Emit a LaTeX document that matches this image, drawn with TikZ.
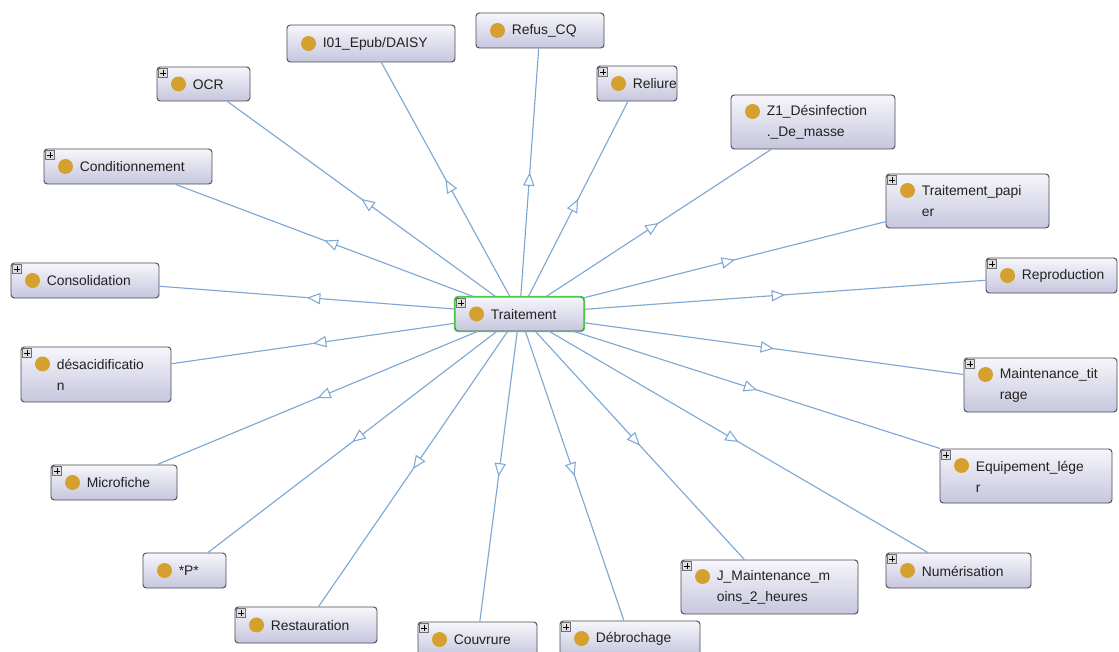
\documentclass[tikz,border=0pt]{standalone}
\usepackage{fontspec}
\setmainfont{Liberation Sans}
\usetikzlibrary{arrows.meta,decorations.markings,calc}
\definecolor{edgec}{HTML}{7EA8D4}
\definecolor{boxtop}{HTML}{F6F6FB}
\definecolor{boxbot}{HTML}{C6C6DE}
\definecolor{boxline}{HTML}{4A4A55}
\definecolor{dotc}{HTML}{D4A02E}
\definecolor{selc}{HTML}{44CC44}
\definecolor{txtc}{HTML}{222222}
\tikzset{
  clsbox/.style={rectangle, rounded corners=2.5pt, draw=boxline, line width=0.7pt,
    top color=boxtop, bottom color=boxbot, inner sep=0pt},
  lbl/.style={text=txtc, inner sep=0pt, align=left,
    font=\fontsize{10.4pt}{15.75pt}\selectfont},
  plusbox/.style={draw=boxline!80, line width=0.35pt, fill=gray!25},
  edge/.style={draw=edgec, line width=0.85pt, postaction={decorate},
    decoration={markings, mark=at position 0.5 with
      {\arrow{Triangle[length=10pt,width=8.5pt,fill=white,line width=0.8pt]}}}}
}
% id, l, t, r, b, text, plus(1/0), dot y offset
\newcommand\cls[8]{%
  \pgfmathsetmacro\cw{(#4-#2)*0.75}\pgfmathsetmacro\ch{(#5-#3)*0.75}%
  \pgfmathsetmacro\cx{(#2+#4)/2}\pgfmathsetmacro\cy{(#3+#5)/2}%
  \node[clsbox, minimum width=\cw pt, minimum height=\ch pt] (#1) at (\cx,\cy) {};
  \fill[dotc] ($(#1.west)+(22,#8)$) circle[radius=5.6pt];
  \node[lbl, anchor=west] (#1-t) at ($(#1.west)+(36,0.5)$) {#6};
  \ifnum#7=1
    \draw[plusbox] ($(#1.north west)+(2,2)$) rectangle ++(9,9);
    \draw[line width=0.5pt, black] ($(#1.north west)+(6.5,3.5)$) -- ++(0,6)
      ($(#1.north west)+(3.5,6.5)$) -- ++(6,0);
  \fi
}
\begin{document}
\begin{tikzpicture}[x=0.75pt,y=-0.75pt]
\useasboundingbox[fill=white] (0,0) rectangle (1119,652);
\cls{T}{455}{297}{584}{331}{Traitement}{1}{0}
\draw[selc, line width=0.9pt, rounded corners=2.5pt] (T.north west) rectangle (T.south east);
\cls{I01}{287}{25}{455}{62}{I01\_Epub/DAISY}{0}{0}
\cls{RCQ}{476}{13}{604}{48}{Refus\_CQ}{0}{0}
\cls{OCR}{157}{67}{250}{101}{OCR}{1}{0}
\cls{Rel}{597}{66}{677}{101}{Reliure}{1}{0}
\cls{Z1}{731}{95}{895}{149}{Z1\_Désinfection\\.\_De\_masse}{0}{-10.5}
\cls{Cond}{44}{149}{212}{184}{Conditionnement}{1}{0}
\cls{TP}{886}{174}{1049}{228}{Traitement\_papi\\er}{1}{-10.5}
\cls{Cons}{11}{263}{159}{298}{Consolidation}{1}{0}
\cls{Rep}{986}{258}{1117}{293}{Reproduction}{1}{0}
\cls{Des}{21}{347}{171}{402}{désacidificatio\\n}{1}{-10.5}
\cls{Mai}{964}{358}{1117}{412}{Maintenance\_tit\\rage}{1}{-10.5}
\cls{Equ}{940}{449}{1112}{503}{Equipement\_lége\\r}{1}{-10.5}
\cls{Mic}{51}{465}{177}{500}{Microfiche}{1}{0}
\cls{P}{143}{553}{226}{588}{*P*}{0}{0}
\cls{Num}{886}{553}{1031}{588}{Numérisation}{1}{0}
\cls{J}{681}{560}{858}{614}{J\_Maintenance\_m\\oins\_2\_heures}{1}{-10.5}
\cls{Res}{235}{607}{377}{643}{Restauration}{1}{0}
\cls{Cou}{418}{622}{537}{657}{Couvrure}{1}{0}
\cls{Deb}{560}{621}{700}{656}{Débrochage}{1}{0}
\foreach \n in {I01,RCQ,OCR,Rel,Z1,Cond,TP,Cons,Rep,Des,Mai,Equ,Mic,P,Num,J,Res,Cou,Deb}
  \draw[edge] (T) -- (\n);
\end{tikzpicture}
\end{document}
